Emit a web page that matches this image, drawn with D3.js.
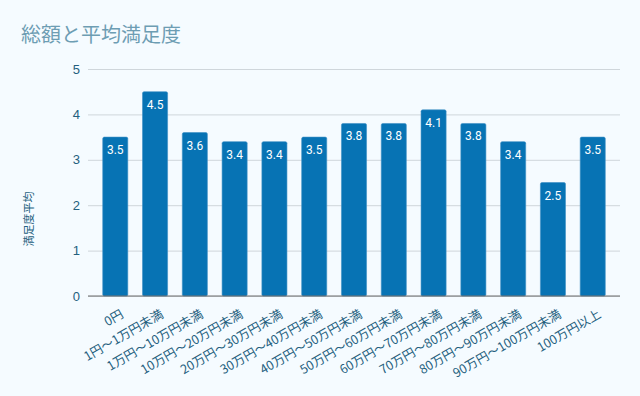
<!DOCTYPE html>
<html>
<head>
<meta charset="utf-8">
<script src="https://cdn.jsdelivr.net/npm/d3@7.9.0/dist/d3.min.js"></script>
<style>
  html, body { margin: 0; padding: 0; background: #f5fbff; }
  svg { display: block; font-family: Roboto, "Noto Sans CJK JP", sans-serif; }
</style>
</head>
<body>
<svg id="chart" width="640" height="396"></svg>
<script>
const categories = [
  '0円', '1円〜1万円未満', '1万円〜10万円未満', '10万円〜20万円未満',
  '20万円〜30万円未満', '30万円〜40万円未満', '40万円〜50万円未満',
  '50万円〜60万円未満', '60万円〜70万円未満', '70万円〜80万円未満',
  '80万円〜90万円未満', '90万円〜100万円未満', '100万円以上'
];
const satisfaction = [3.5, 4.5, 3.6, 3.4, 3.4, 3.5, 3.8, 3.8, 4.1, 3.8, 3.4, 2.5, 3.5];
const yTicks = [0, 1, 2, 3, 4, 5];

const svg = d3.select('#chart');
const margin = { left: 88, right: 20, top: 69, bottom: 100 };
const width = 640, height = 396;

const x = d3.scaleBand()
  .domain(categories)
  .range([margin.left, width - margin.right])
  .padding(0.37);

const y = d3.scaleLinear()
  .domain([0, 5])
  .range([height - margin.bottom, margin.top]);

// title
svg.append('text')
  .attr('x', 21)
  .attr('y', 42)
  .attr('fill', '#6d9db3')
  .attr('font-size', 20)
  .attr('font-family', '"Noto Sans CJK JP", sans-serif')
  .text('総額と平均満足度');

// gridlines + y tick labels
const yAxis = svg.append('g')
  .attr('transform', `translate(${margin.left},0)`)
  .call(d3.axisLeft(y).tickValues(yTicks).tickFormat(d3.format('d'))
    .tickSize(-(width - margin.left - margin.right)).tickPadding(8));
yAxis.select('.domain').remove();
yAxis.selectAll('.tick line').attr('stroke', '#cfd6db');
yAxis.selectAll('.tick text').attr('fill', '#24607e').attr('font-size', 13);

// y axis title
svg.append('text')
  .attr('transform', 'translate(33,219) rotate(-90)')
  .attr('text-anchor', 'middle')
  .attr('fill', '#24607e')
  .attr('font-size', 11)
  .attr('font-family', '"Noto Sans CJK JP", sans-serif')
  .text('満足度平均');

// bars
svg.append('g')
  .selectAll('rect')
  .data(satisfaction)
  .join('rect')
  .attr('x', (d, i) => x(categories[i]))
  .attr('y', d => y(d))
  .attr('width', x.bandwidth())
  .attr('height', d => y(0) - y(d))
  .attr('rx', 1.5)
  .attr('fill', '#0773b4')
  .attr('stroke', '#3d8fc4')
  .attr('stroke-width', 0.6);

// value labels
svg.append('g')
  .selectAll('text')
  .data(satisfaction)
  .join('text')
  .attr('x', (d, i) => x(categories[i]) + x.bandwidth() / 2)
  .attr('y', d => y(d) + 17)
  .attr('text-anchor', 'middle')
  .attr('fill', '#ffffff')
  .attr('font-size', 12)
  .text(d => d.toFixed(1));

// baseline
svg.append('line')
  .attr('x1', margin.left)
  .attr('x2', width - margin.right)
  .attr('y1', y(0))
  .attr('y2', y(0))
  .attr('stroke', '#6b6b6b')
  .attr('stroke-width', 1);

// x labels
svg.append('g')
  .selectAll('text')
  .data(categories)
  .join('text')
  .attr('transform', d => `translate(${x(d) + x.bandwidth() / 2 + 7},${y(0) + 17}) rotate(-30)`)
  .attr('text-anchor', 'end')
  .attr('dy', '0.35em')
  .attr('fill', '#24607e')
  .attr('font-size', 12.5)
  .attr('font-family', '"Noto Sans CJK JP", sans-serif')
  .text(d => d);
</script>
</body>
</html>
